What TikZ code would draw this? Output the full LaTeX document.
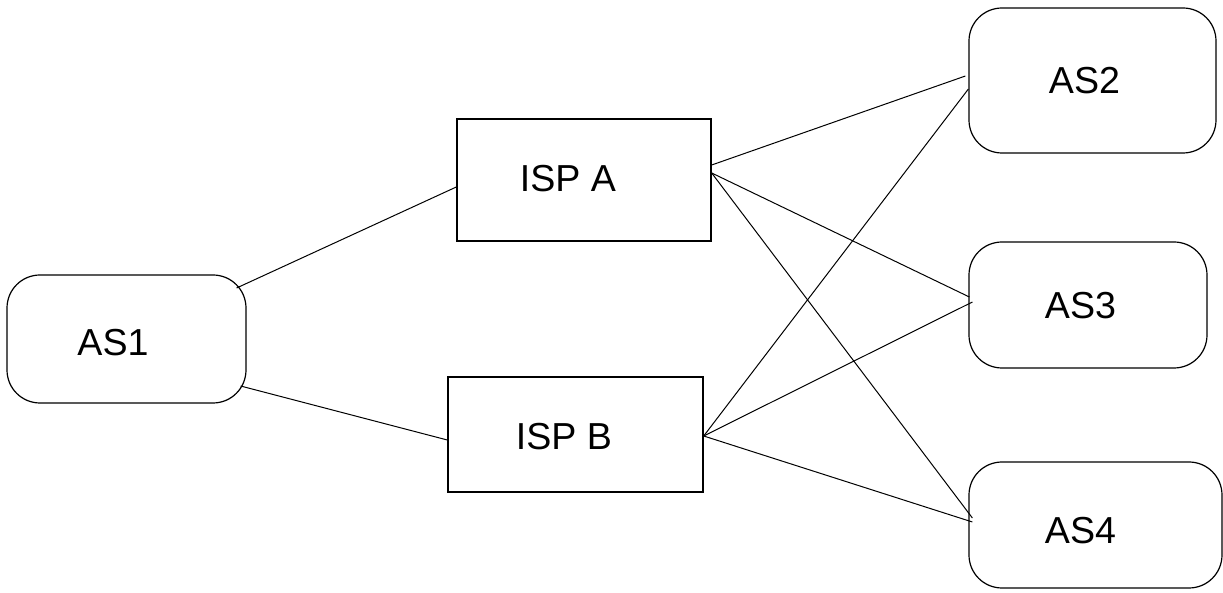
\documentclass[tikz,border=0pt]{standalone}
\usepackage{fontspec}
\setmainfont{Liberation Sans}
\usetikzlibrary{calc}

\tikzset{
  asbox/.style={draw, rounded corners=16.5pt, line width=0.6pt, inner sep=0pt},
  ispbox/.style={draw, line width=0.7pt, inner sep=0pt},
  link/.style={line width=0.5pt},
}

\begin{document}
\begin{tikzpicture}[x=0.5pt,y=-0.5pt,font=\fontsize{18.8}{22}\selectfont]
\useasboundingbox (0,0) rectangle (1223,593);
% autonomous systems
\node[asbox, minimum width=119.5pt, minimum height=64pt] (as1) at (126.5,339) {};
\node[asbox, minimum width=123.5pt, minimum height=72.5pt] (as2) at (1092.5,80.5) {};
\node[asbox, minimum width=119pt, minimum height=63pt] (as3) at (1088,305) {};
\node[asbox, minimum width=126.5pt, minimum height=63pt] (as4) at (1095.5,525) {};
\node (as1txt) at (113,343) {AS1};
\node (as2txt) at (1084.5,80.5) {AS2};
\node (as3txt) at (1080.5,306) {AS3};
\node (as4txt) at (1080.5,530.5) {AS4};
% providers
\node[ispbox, minimum width=127pt, minimum height=61pt] (ispA) at (584,180) {};
\node[ispbox, minimum width=127.5pt, minimum height=57.5pt] (ispB) at (575.5,434.5) {};
\node (ispAtxt) at (568,179) {ISP A};
\node (ispBtxt) at (564,436.5) {ISP B};
% links
\draw[link] ($(as1.east)+(-10,-51)$) -- ($(ispA.west)+(0,7)$);
\draw[link] ($(as1.east)+(-6,47)$) -- ($(ispB.west)+(0,5.5)$);
\draw[link] ($(ispA.east)+(0,-15)$) -- ($(as2.west)+(-3,-4.5)$);
\draw[link] ($(ispA.east)+(0,-7)$) -- ($(as3.west)+(1,-8)$);
\draw[link] ($(ispA.east)+(0,-7)$) -- ($(as4.west)+(4,-7)$);
\draw[link] ($(ispB.east)+(0,1.5)$) -- ($(as2.west)+(0,8.5)$);
\draw[link] ($(ispB.east)+(0,1.5)$) -- ($(as3.west)+(4,-3)$);
\draw[link] ($(ispB.east)+(0,1.5)$) -- ($(as4.west)+(4,-3)$);
\end{tikzpicture}
\end{document}
